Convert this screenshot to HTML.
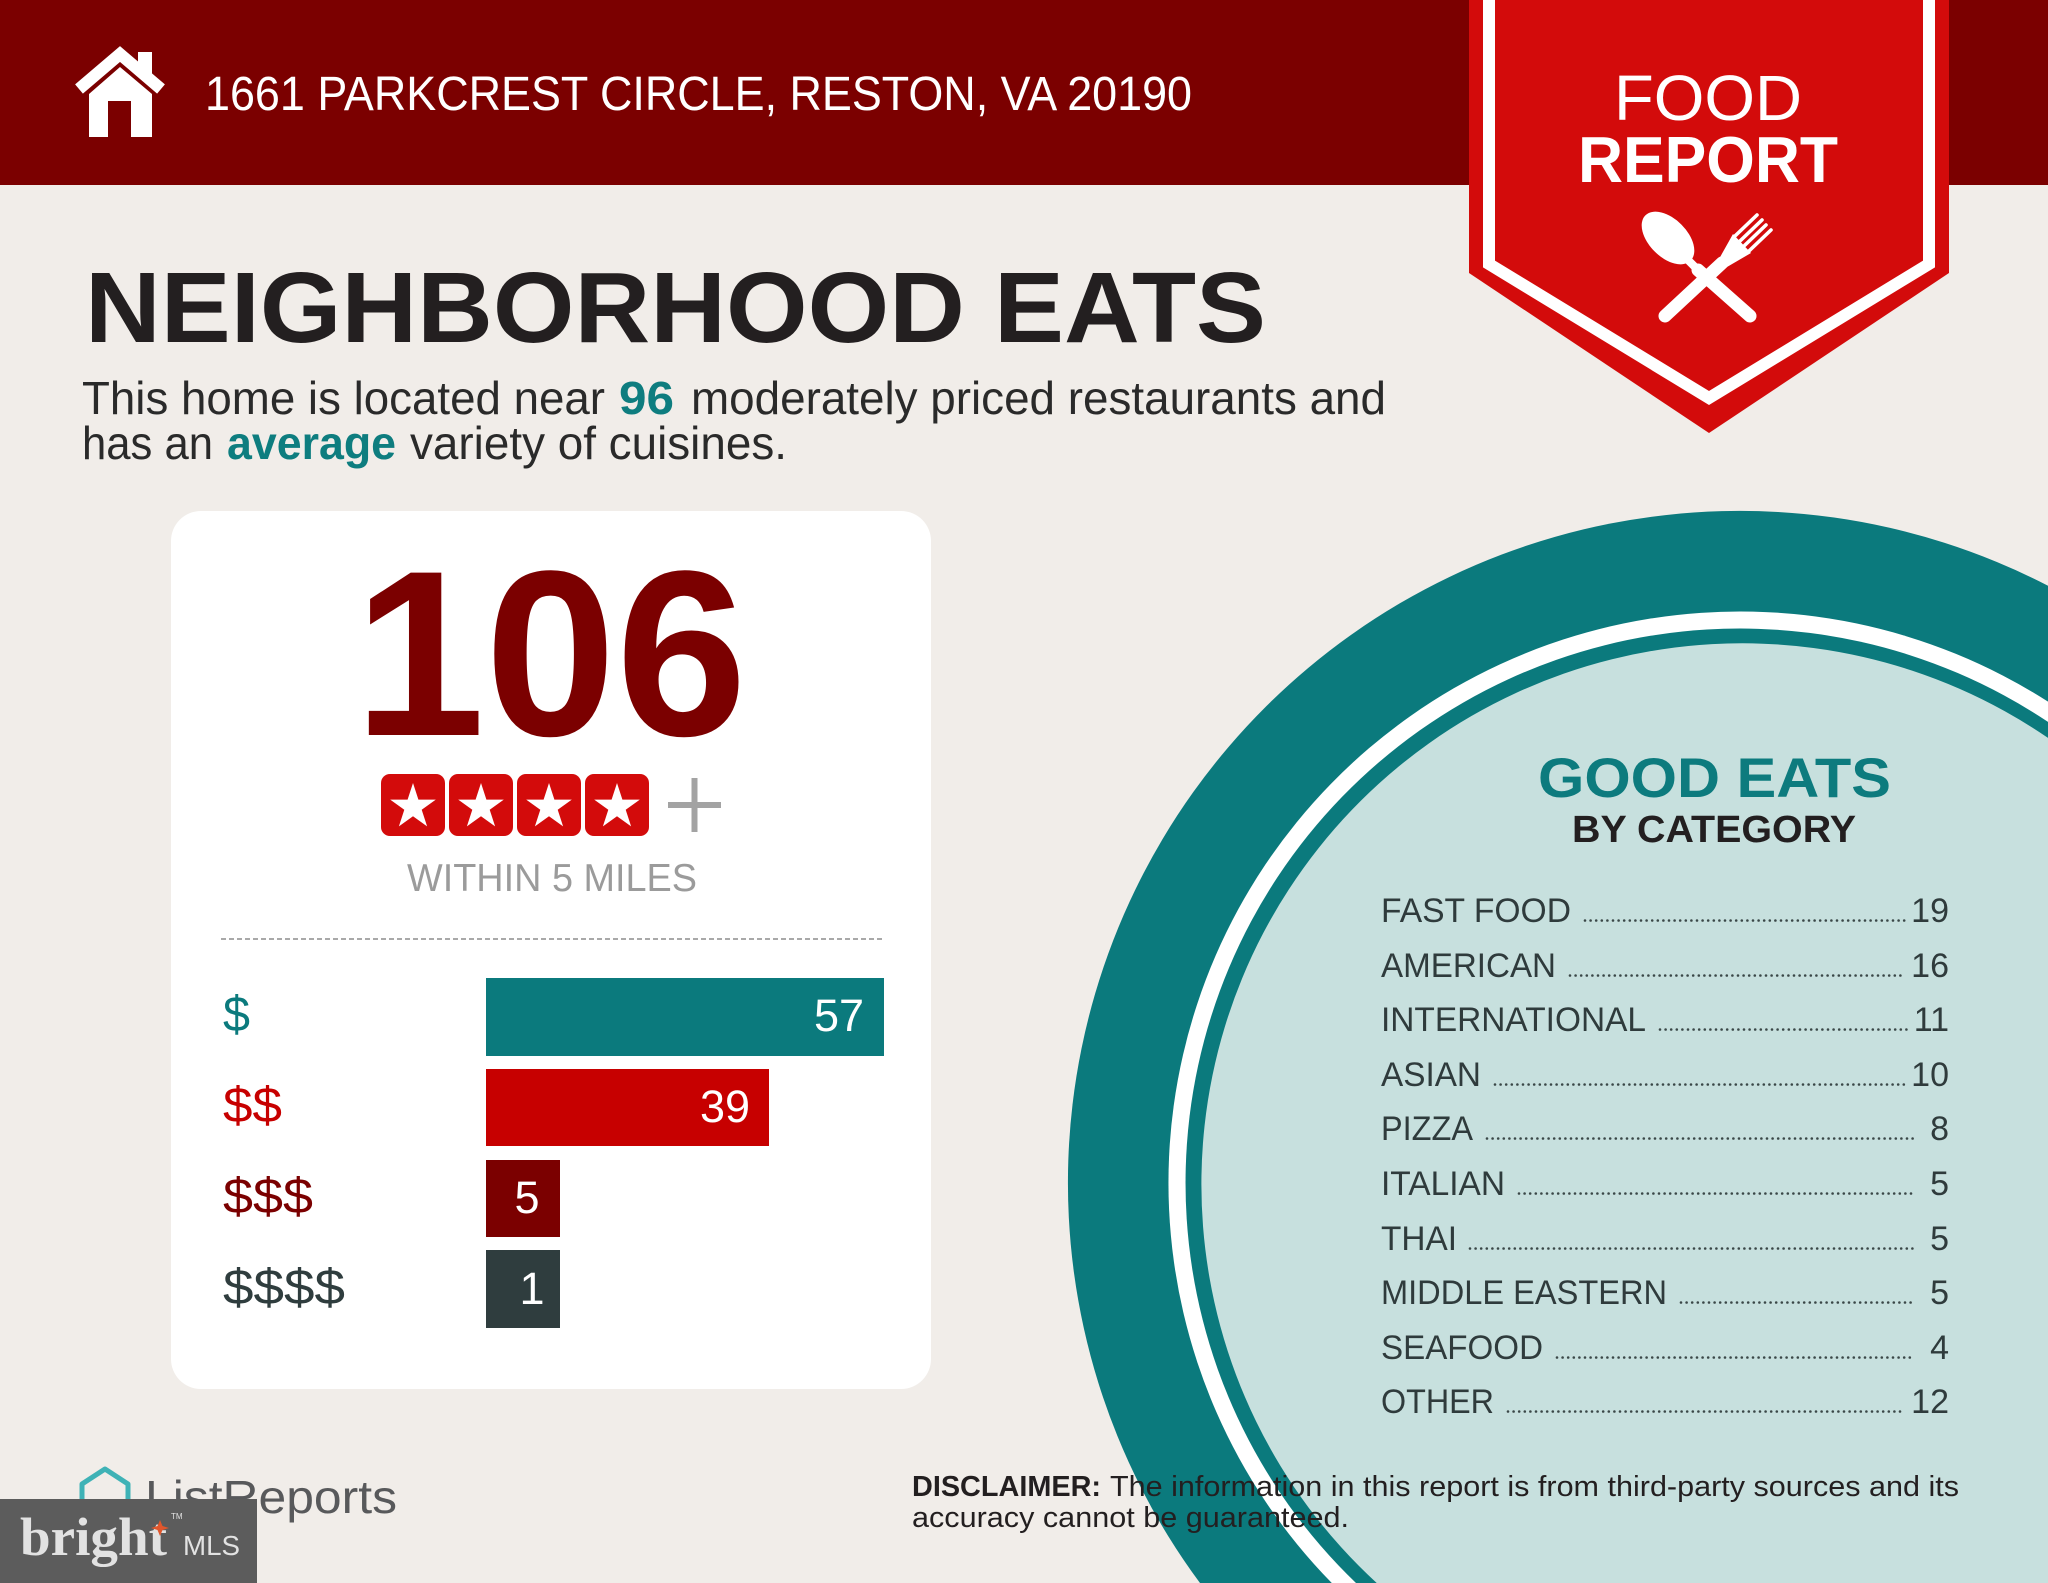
<!DOCTYPE html>
<html>
<head>
<meta charset="utf-8">
<style>
html,body{margin:0;padding:0;background:#f1ede9;width:2048px;height:1583px;overflow:hidden;}
svg{display:block;}
text{font-family:"Liberation Sans",sans-serif;}
</style>
</head>
<body>
<svg width="2048" height="1583" viewBox="0 0 2048 1583" xmlns="http://www.w3.org/2000/svg">
  <rect x="0" y="0" width="2048" height="1583" fill="#f1ede9"/>
  <!-- header -->
  <rect x="0" y="0" width="2048" height="185" fill="#7b0000"/>
  <!-- house icon -->
  <polyline points="79,89 120,54 161,89" fill="none" stroke="#ffffff" stroke-width="12"/>
  <rect x="138" y="52" width="14" height="22" fill="#ffffff"/>
  <polygon points="89,94 120,67 152,94 152,137 131,137 131,101 108,101 108,137 89,137" fill="#ffffff"/>
  <text x="205" y="110" font-size="48" fill="#ffffff" textLength="987" lengthAdjust="spacingAndGlyphs">1661 PARKCREST CIRCLE, RESTON, VA 20190</text>

  <!-- ribbon -->
  <polygon points="1469,0 1949,0 1949,273 1709,433 1469,273" fill="#d30b0b"/>
  <polyline points="1489,0 1489,264 1709,398 1929,264 1929,0" fill="none" stroke="#ffffff" stroke-width="12"/>
  <text x="1708" y="120" font-size="64" fill="#ffffff" text-anchor="middle" textLength="188" lengthAdjust="spacingAndGlyphs">FOOD</text>
  <text x="1708" y="182" font-size="65" font-weight="bold" fill="#ffffff" text-anchor="middle" textLength="260" lengthAdjust="spacingAndGlyphs">REPORT</text>
  <!-- spoon -->
  <ellipse cx="1668" cy="238" rx="32" ry="19" transform="rotate(45 1668 238)" fill="#ffffff"/>
  <line x1="1684" y1="256" x2="1702" y2="274" stroke="#ffffff" stroke-width="8"/>
  <line x1="1698" y1="270" x2="1750" y2="316" stroke="#ffffff" stroke-width="13" stroke-linecap="round"/>
  <!-- fork -->
  <line x1="1665" y1="316" x2="1722" y2="263" stroke="#ffffff" stroke-width="13" stroke-linecap="round"/>
  <polygon points="1719,259 1727,267 1751,253 1733,234" fill="#ffffff"/>
  <g stroke="#ffffff" stroke-width="3.6" stroke-linecap="round">
    <line x1="1735" y1="236" x2="1757" y2="215"/>
    <line x1="1740" y1="241" x2="1762" y2="220"/>
    <line x1="1744" y1="246" x2="1766" y2="225"/>
    <line x1="1749" y1="251" x2="1771" y2="230"/>
  </g>

  <!-- title -->
  <text x="85" y="342" font-size="100" font-weight="bold" fill="#231f20" textLength="1181" lengthAdjust="spacingAndGlyphs">NEIGHBORHOOD EATS</text>
  <text x="82" y="414" font-size="46" fill="#2a2a2a" textLength="523" lengthAdjust="spacingAndGlyphs">This home is located near</text>
  <text x="619" y="414" font-size="46" font-weight="bold" fill="#0e7d7f" textLength="55" lengthAdjust="spacingAndGlyphs">96</text>
  <text x="691" y="414" font-size="46" fill="#2a2a2a" textLength="695" lengthAdjust="spacingAndGlyphs">moderately priced restaurants and</text>
  <text x="82" y="459" font-size="46" fill="#2a2a2a" textLength="131" lengthAdjust="spacingAndGlyphs">has an</text>
  <text x="227" y="459" font-size="46" font-weight="bold" fill="#0e7d7f" textLength="169" lengthAdjust="spacingAndGlyphs">average</text>
  <text x="410" y="459" font-size="46" fill="#2a2a2a" textLength="377" lengthAdjust="spacingAndGlyphs">variety of cuisines.</text>

  <!-- card -->
  <rect x="171" y="511" width="760" height="878" rx="30" ry="30" fill="#ffffff"/>
  <text x="354" y="735" font-size="236" font-weight="bold" fill="#7b0000" textLength="393" lengthAdjust="spacingAndGlyphs">106</text>
  <!-- stars -->
  <g fill="#d30b0b">
    <rect x="381" y="774" width="64" height="62" rx="9"/>
    <rect x="449" y="774" width="64" height="62" rx="9"/>
    <rect x="517" y="774" width="64" height="62" rx="9"/>
    <rect x="585" y="774" width="64" height="62" rx="9"/>
  </g>
  <g fill="#ffffff">
    <polygon transform="translate(413 807)" points="0,-24 5.4,-7.4 22.8,-7.4 8.7,2.8 14.1,19.4 0,9.2 -14.1,19.4 -8.7,2.8 -22.8,-7.4 -5.4,-7.4"/>
    <polygon transform="translate(481 807)" points="0,-24 5.4,-7.4 22.8,-7.4 8.7,2.8 14.1,19.4 0,9.2 -14.1,19.4 -8.7,2.8 -22.8,-7.4 -5.4,-7.4"/>
    <polygon transform="translate(549 807)" points="0,-24 5.4,-7.4 22.8,-7.4 8.7,2.8 14.1,19.4 0,9.2 -14.1,19.4 -8.7,2.8 -22.8,-7.4 -5.4,-7.4"/>
    <polygon transform="translate(617 807)" points="0,-24 5.4,-7.4 22.8,-7.4 8.7,2.8 14.1,19.4 0,9.2 -14.1,19.4 -8.7,2.8 -22.8,-7.4 -5.4,-7.4"/>
  </g>
  <rect x="668" y="802" width="53" height="6" fill="#a3a3a3"/>
  <rect x="691.5" y="778" width="6" height="54" fill="#a3a3a3"/>
  <text x="407" y="891" font-size="39" fill="#9b9b9b" textLength="290" lengthAdjust="spacingAndGlyphs">WITHIN 5 MILES</text>
  <line x1="221" y1="939" x2="884" y2="939" stroke="#a9a9a9" stroke-width="2" stroke-dasharray="5 3"/>

  <!-- bars -->
  <rect x="486" y="978" width="398" height="78" fill="#0b7a7d"/>
  <rect x="486" y="1069" width="283" height="77" fill="#c70000"/>
  <rect x="486" y="1160" width="74" height="77" fill="#7b0000"/>
  <rect x="486" y="1250" width="74" height="78" fill="#2f3d3e"/>
  <text x="864" y="1031" font-size="45" fill="#ffffff" text-anchor="end">57</text>
  <text x="750" y="1122" font-size="45" fill="#ffffff" text-anchor="end">39</text>
  <text x="527" y="1213" font-size="45" fill="#ffffff" text-anchor="middle">5</text>
  <text x="532" y="1304" font-size="45" fill="#ffffff" text-anchor="middle">1</text>
  <text x="223" y="1031" font-size="50" fill="#0b7a7d" textLength="27" lengthAdjust="spacingAndGlyphs">$</text>
  <text x="223" y="1122" font-size="50" fill="#c70000" textLength="59" lengthAdjust="spacingAndGlyphs">$$</text>
  <text x="223" y="1213" font-size="50" fill="#7b0000" textLength="90" lengthAdjust="spacingAndGlyphs">$$$</text>
  <text x="223" y="1304" font-size="50" fill="#2f3d3e" textLength="122" lengthAdjust="spacingAndGlyphs">$$$$</text>

  <!-- circle (clipped to frame as paths) -->
  <path d="M1200,1583 A672,672 0 0 1 2048,585.7 L2048,1583 Z" fill="#0b7a7d"/>
  <path d="M1331.8,1583 A571.5,571.5 0 0 1 2048,701.6 L2048,1583 Z" fill="#ffffff"/>
  <path d="M1356,1583 A554.5,554.5 0 0 1 2048,721.9 L2048,1583 Z" fill="#0b7a7d"/>
  <path d="M1376.7,1583 A541,541 0 0 1 2048,737.9 L2048,1583 Z" fill="#c7e0de"/>

  <text x="1538" y="797" font-size="56" font-weight="bold" fill="#0d7b7e" textLength="353" lengthAdjust="spacingAndGlyphs">GOOD EATS</text>
  <text x="1572" y="842" font-size="38" font-weight="bold" fill="#231f20" textLength="284" lengthAdjust="spacingAndGlyphs">BY CATEGORY</text>

  <g font-size="34" fill="#2f3b3c">
    <text x="1381" y="922" textLength="190" lengthAdjust="spacingAndGlyphs">FAST FOOD</text>
    <text x="1381" y="977" textLength="175" lengthAdjust="spacingAndGlyphs">AMERICAN</text>
    <text x="1381" y="1031" textLength="265" lengthAdjust="spacingAndGlyphs">INTERNATIONAL</text>
    <text x="1381" y="1086" textLength="100" lengthAdjust="spacingAndGlyphs">ASIAN</text>
    <text x="1381" y="1140" textLength="92" lengthAdjust="spacingAndGlyphs">PIZZA</text>
    <text x="1381" y="1195" textLength="124" lengthAdjust="spacingAndGlyphs">ITALIAN</text>
    <text x="1381" y="1250" textLength="76" lengthAdjust="spacingAndGlyphs">THAI</text>
    <text x="1381" y="1304" textLength="286" lengthAdjust="spacingAndGlyphs">MIDDLE EASTERN</text>
    <text x="1381" y="1359" textLength="162" lengthAdjust="spacingAndGlyphs">SEAFOOD</text>
    <text x="1381" y="1413" textLength="113" lengthAdjust="spacingAndGlyphs">OTHER</text>
    <text x="1949" y="922" text-anchor="end">19</text>
    <text x="1949" y="977" text-anchor="end">16</text>
    <text x="1949" y="1031" text-anchor="end">11</text>
    <text x="1949" y="1086" text-anchor="end">10</text>
    <text x="1949" y="1140" text-anchor="end">8</text>
    <text x="1949" y="1195" text-anchor="end">5</text>
    <text x="1949" y="1250" text-anchor="end">5</text>
    <text x="1949" y="1304" text-anchor="end">5</text>
    <text x="1949" y="1359" text-anchor="end">4</text>
    <text x="1949" y="1413" text-anchor="end">12</text>
  </g>
  <g stroke="#3a4747" stroke-width="2.6" stroke-linecap="round" stroke-dasharray="0 5.6" fill="none">
    <line x1="1585" y1="920.5" x2="1905" y2="920.5"/>
    <line x1="1570" y1="975.5" x2="1905" y2="975.5"/>
    <line x1="1660" y1="1029.5" x2="1910" y2="1029.5"/>
    <line x1="1495" y1="1084.5" x2="1905" y2="1084.5"/>
    <line x1="1487" y1="1138.5" x2="1915" y2="1138.5"/>
    <line x1="1519" y1="1193.5" x2="1915" y2="1193.5"/>
    <line x1="1470" y1="1248.5" x2="1915" y2="1248.5"/>
    <line x1="1681" y1="1302.5" x2="1915" y2="1302.5"/>
    <line x1="1557" y1="1357.5" x2="1915" y2="1357.5"/>
    <line x1="1508" y1="1411.5" x2="1905" y2="1411.5"/>
  </g>

  <!-- disclaimer -->
  <text x="912" y="1496" font-size="29" font-weight="bold" fill="#231f20" textLength="189" lengthAdjust="spacingAndGlyphs">DISCLAIMER:</text>
  <text x="1110" y="1496" font-size="29" fill="#231f20" textLength="849" lengthAdjust="spacingAndGlyphs">The information in this report is from third-party sources and its</text>
  <text x="912" y="1527" font-size="29" fill="#231f20" textLength="437" lengthAdjust="spacingAndGlyphs">accuracy cannot be guaranteed.</text>

  <!-- ListReports logo -->
  <path d="M82,1510 L82,1484 L105,1469 L128,1484 L128,1510" fill="none" stroke="#3fb2b6" stroke-width="5" stroke-linejoin="round"/>
  <text x="145" y="1513" font-size="46" fill="#58595b" textLength="252" lengthAdjust="spacingAndGlyphs">ListReports</text>

  <!-- bright MLS badge -->
  <rect x="0" y="1499" width="257" height="84" fill="#5c5c5c"/>
  <text x="20" y="1555" font-size="54" font-weight="bold" fill="#e2e2e2" textLength="147" lengthAdjust="spacingAndGlyphs" style="font-family:'Liberation Serif',serif;">bright</text>
  <polygon points="160,1520 162.5,1526 169,1528 162.5,1530 160,1536 157.5,1530 151,1528 157.5,1526" fill="#e0562c"/>
  <text x="171" y="1519" font-size="8" fill="#e2e2e2">TM</text>
  <text x="183" y="1555" font-size="28" fill="#e2e2e2" textLength="57" lengthAdjust="spacingAndGlyphs">MLS</text>
</svg>
</body>
</html>
